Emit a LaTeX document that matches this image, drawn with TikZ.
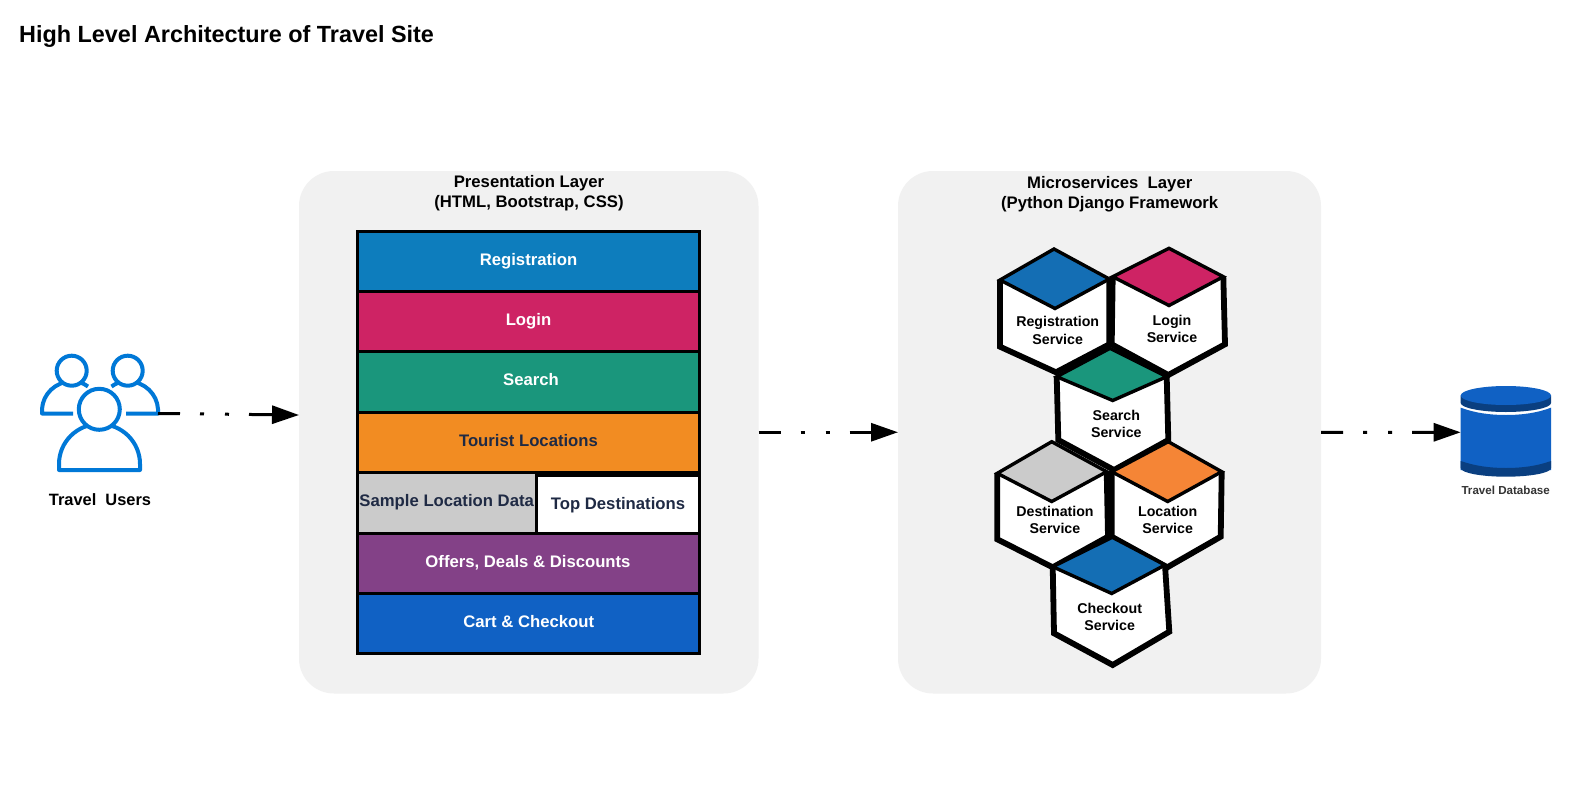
\documentclass[tikz,border=0pt]{standalone}
\usepackage{fontspec}
\setmainfont{Liberation Sans}
\usetikzlibrary{arrows.meta}
\definecolor{panelgray}{HTML}{F1F1F1}
\definecolor{iconblue}{HTML}{0078D7}
\definecolor{inkdark}{HTML}{1F2A44}
\definecolor{regblue}{HTML}{0D7DBD}
\definecolor{logred}{HTML}{CE2364}
\definecolor{seagreen}{HTML}{1A967C}
\definecolor{touror}{HTML}{F28C22}
\definecolor{graybox}{HTML}{CBCBCB}
\definecolor{purplebox}{HTML}{834187}
\definecolor{cartblue}{HTML}{1061C4}
\definecolor{hexblue}{HTML}{146EB4}
\definecolor{hexorange}{HTML}{F58536}
\definecolor{dbdark}{HTML}{0A3F80}
\tikzset{
  panelbox/.style={fill=panelgray,rounded corners=35pt,inner sep=0pt,outer sep=0pt,minimum width=#1},
  rowbox/.style={draw=black,line width=3pt,inner sep=0pt,outer sep=0pt},
  rowlabel/.style={font=\fontsize{16.7}{20}\selectfont\bfseries,inner sep=0pt,text height=12pt,text depth=3.5pt},
  headlabel/.style={font=\fontsize{16.7}{20}\selectfont\bfseries,align=center,inner sep=0pt},
  hexlabel/.style={font=\fontsize{14.2}{17.3}\selectfont\bfseries,align=center,inner sep=0pt},
  hexline/.style={draw=black,line width=5.8pt,line join=miter},
  hextop/.style={draw=black,line width=3.4pt,line join=miter},
  personline/.style={draw=iconblue,line width=4pt,line join=round,line cap=butt},
  flowarrow/.style={line width=3pt,draw=black,dash pattern=on 22pt off 20pt on 4pt off 21pt on 4pt off 20pt on 60pt off 0pt,-{Triangle[length=27pt,width=18pt]}},
}
\newcommand{\hexcell}[8]{%
  \fill[white] #2 -- #3 -- #4 -- #5 -- #6 -- #7 -- cycle;
  \draw[hexline] #3 -- #4 -- #5 -- #6 -- #7;
  \draw[hextop,fill=#1] #2 -- #3 -- #8 -- #7 -- cycle;
}
\begin{document}
\begin{tikzpicture}[x=1pt,y=-1pt]
\useasboundingbox (0,0) rectangle (1592,789);
\fill[white] (0,0) rectangle (1592,789);
\node[anchor=west,inner sep=0pt,font=\fontsize{23.4}{28}\selectfont\bfseries] (title) at (19,37) {High Level Architecture of Travel Site};

% panels
\node[panelbox=459.5pt,minimum height=522.5pt] (p1) at (528.75,432.25) {};
\node[panelbox=423pt,minimum height=522.5pt] (p2) at (1109.5,432.25) {};
\node[headlabel] (p1head) at (529,192.8) {Presentation Layer\\(HTML, Bootstrap, CSS)};
\node[headlabel] (p2head) at (1109.7,193.8) {Microservices\ \ Layer\\(Python Django Framework};

% stack
\node[rowbox,fill=regblue,minimum width=342pt,minimum height=60pt] (rReg) at (528.5,261.5) {};
\node[rowbox,fill=logred,minimum width=342pt,minimum height=60pt] (rLog) at (528.5,321.5) {};
\node[rowbox,fill=seagreen,minimum width=342pt,minimum height=60.5pt] (rSea) at (528.5,381.75) {};
\node[rowbox,fill=touror,minimum width=342pt,minimum height=60.3pt] (rTou) at (528.5,442.15) {};
\node[rowbox,fill=graybox,minimum width=178.8pt,minimum height=61pt] (rSam) at (446.9,502.8) {};
\node[rowbox,fill=white,minimum width=163.2pt,minimum height=57.8pt] (rTop) at (617.9,504.4) {};
\node[rowbox,fill=purplebox,minimum width=342pt,minimum height=60pt] (rOff) at (528.5,563.3) {};
\node[rowbox,fill=cartblue,minimum width=342pt,minimum height=60pt] (rCar) at (528.5,623.3) {};
\node[rowlabel,text=white] (tReg) at (528.5,261) {Registration};
\node[rowlabel,text=white] (tLog) at (528.5,321) {Login};
\node[rowlabel,text=white] (tSea) at (531,381.5) {Search};
\node[rowlabel,text=inkdark] (tTou) at (528.5,442) {Tourist Locations};
\node[rowlabel,text=inkdark] (tSam) at (446.7,502.5) {Sample Location Data};
\node[rowlabel,text=inkdark] (tTop) at (618,505) {Top Destinations};
\node[rowlabel,text=white] (tOff) at (528,563) {Offers, Deals \& Discounts};
\node[rowlabel,text=white] (tCar) at (528.8,623.5) {Cart \& Checkout};

% hexagons
\hexcell{hexblue}{(1054,249)}{(1109.3,279)}{(1109.3,344.3)}{(1056,372.3)}{(1000,346.7)}{(1000,280)}{(1055,308.5)}
\hexcell{logred}{(1169,248.3)}{(1223.3,276.7)}{(1225,344.3)}{(1168.3,375)}{(1111.7,344.3)}{(1112.7,276.7)}{(1169,305.5)}
\hexcell{seagreen}{(1110,348.3)}{(1166.7,376.7)}{(1168.3,440)}{(1114,470)}{(1058.3,440)}{(1056.7,376.7)}{(1112.7,400.5)}
\hexcell{graybox}{(1051.7,441.7)}{(1106.7,471.7)}{(1108,536.7)}{(1052.7,567.3)}{(997.3,539.3)}{(997.3,473.3)}{(1051.7,501.5)}
\hexcell{hexorange}{(1168.3,441.7)}{(1221.7,471.7)}{(1220.7,536.7)}{(1167.3,567.3)}{(1111.7,536.7)}{(1111.7,471.7)}{(1167.7,501.5)}
\hexcell{hexblue}{(1112.3,537.3)}{(1165,565)}{(1169.3,631.7)}{(1112.7,665)}{(1054,633.3)}{(1052.7,566.7)}{(1111.7,593.5)}
\node[hexlabel] (hReg) at (1057.7,330.3) {Registration\\Service};
\node[hexlabel] (hLog) at (1172,328.8) {Login\\Service};
\node[hexlabel] (hSea) at (1116.3,424) {Search\\Service};
\node[hexlabel] (hDes) at (1055,520.2) {Destination\\Service};
\node[hexlabel] (hLoc) at (1167.7,520.2) {Location\\Service};
\node[hexlabel] (hChk) at (1109.7,617) {Checkout\\Service};

% users icon
\draw[personline] (73,413.5) -- (42,413.5) -- (42,409) .. controls (43,394) and (55,382) .. (72,381) .. controls (78,381) and (83,383) .. (88,386.5);
\draw[personline] (126,413.5) -- (158,413.5) -- (158,409) .. controls (157,394) and (145,382) .. (128,381) .. controls (122,381) and (116,383) .. (111.5,386.5);
\draw[personline,fill=white] (71.7,370.7) circle[radius=15];
\draw[personline,fill=white] (127.7,370.7) circle[radius=15];
\draw[personline,fill=white,line join=round] (59,470) -- (140,470) -- (140,464) .. controls (140,442) and (122,424) .. (99.5,424) .. controls (77,424) and (59,442) .. (59,464) -- cycle;
\draw[personline,fill=white] (99.3,409.3) circle[radius=20.5];
\node[font=\fontsize{16.4}{20}\selectfont\bfseries,inner sep=0pt] (users) at (100,500) {Travel\ \ Users};
\coordinate (usersout) at (158,413.5);
\coordinate (p1in) at (299,415);

% database
\fill[cartblue] (1460.7,407.7) .. controls (1475,413) and (1490,415) .. (1505.85,415) .. controls (1522,415) and (1537,413) .. (1551,407.7) -- (1551,470) -- (1460.7,470) -- cycle;
\fill[dbdark] (1460.7,461) .. controls (1475,466) and (1490,468) .. (1505.85,468) .. controls (1522,468) and (1537,466) .. (1551,461) -- (1551,468) .. controls (1551,473) and (1530,476.7) .. (1505.85,476.7) .. controls (1482,476.7) and (1460.7,473) .. (1460.7,468) -- cycle;
\fill[dbdark] (1460.7,395.5) -- (1551,395.5) -- (1551,403) .. controls (1551,408) and (1530,412) .. (1505.85,412) .. controls (1482,412) and (1460.7,408) .. (1460.7,403) -- cycle;
\fill[cartblue] (1505.85,395.5) ellipse[x radius=45.15,y radius=9.5];
\node[inner sep=0pt,outer sep=0pt,minimum width=90.3pt,minimum height=92pt] (db) at (1505.85,432.3) {};
\node[font=\fontsize{11.6}{14}\selectfont\bfseries,text=black!80,inner sep=0pt] (dblabel) at (1505.7,490) {Travel Database};

% connectors
\draw[flowarrow] (usersout) -- (p1in);
\draw[flowarrow] (p1.east) -- (p2.west);
\draw[flowarrow] (p2.east) -- (db.west);
\end{tikzpicture}
\end{document}
